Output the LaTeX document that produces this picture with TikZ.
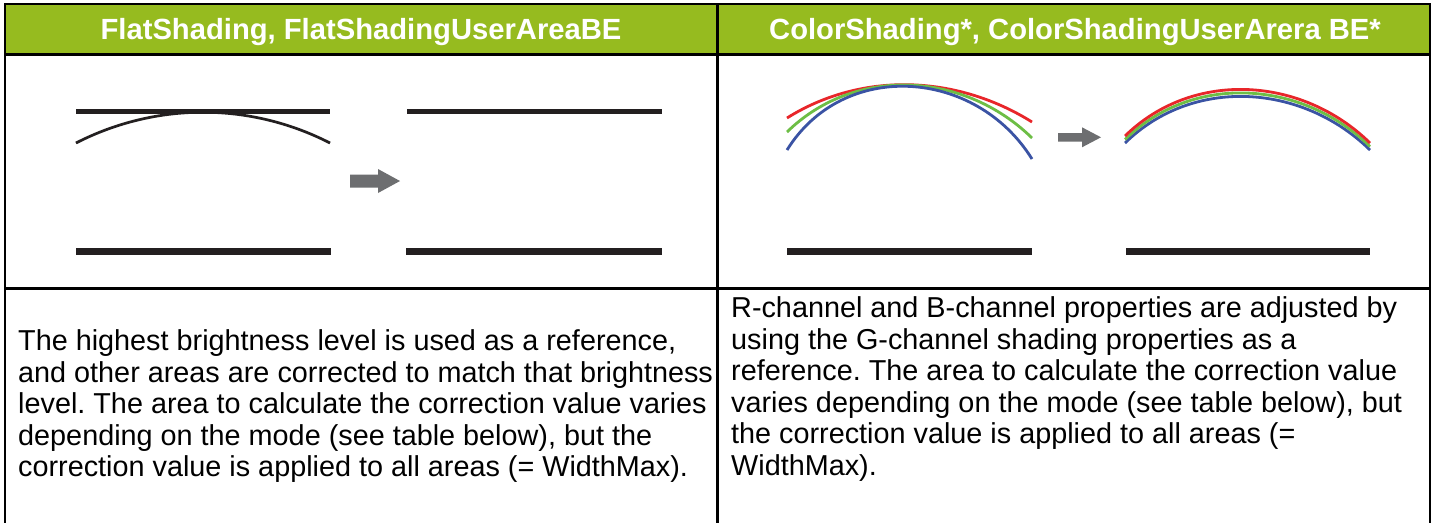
\documentclass[tikz,border=0pt]{standalone}
\usepackage{fontspec}
\setmainfont{Liberation Sans}
\frenchspacing
\definecolor{hdrgreen}{HTML}{96BB1F}
\definecolor{inkblack}{HTML}{231F20}
\definecolor{arrowgray}{HTML}{6D6E70}
\definecolor{chred}{HTML}{E8262A}
\definecolor{chgreen}{HTML}{6DBE45}
\definecolor{chblue}{HTML}{3A53A4}
\begin{document}
\begin{tikzpicture}[x=1pt,y=-1pt,
  rule/.style={draw=black,line width=2.2pt},
  hdrtext/.style={text=white,font=\fontsize{29.2}{32}\selectfont\bfseries,inner sep=0pt},
  bodytext/.style={text=black,font=\fontsize{28.8}{31.6}\selectfont,align=left,inner sep=0pt,anchor=north west},
  thinbar/.style={draw=inkblack,line width=4.2pt},
  thickbar/.style={draw=inkblack,line width=6.5pt},
  blackarc/.style={draw=inkblack,line width=2.7pt},
  rgbarc/.style={line width=2.8pt},
  grayarrow/.style={fill=arrowgray,draw=none}]
\useasboundingbox (0,0) rectangle (1432,523);
\fill[white] (0,0) rectangle (1432,523);
% header band
\fill[hdrgreen] (5,4) rectangle (1430,54.5);
% table rules
\draw[rule] (5,4) -- (1430,4);
\draw[rule] (5,54.5) -- (1430,54.5);
\draw[rule] (5,288.5) -- (1430,288.5);
\draw[rule] (5,3) -- (5,523);
\draw[rule] (717.5,3) -- (717.5,523);
\draw[rule] (1430,3) -- (1430,523);
% header texts
\node[hdrtext] (hl) at (361,32.5) {FlatShading, FlatShadingUserAreaBE};
\node[hdrtext] (hr) at (1075,32.5) {ColorShading*, ColorShadingUserArera BE*};
% ---- left panel ----
\draw[thinbar] (76,111.5) -- (330,111.5);
\draw[blackarc] (76,143) .. controls (156,102) and (250,102) .. (330,143);
\draw[thinbar] (407,111.5) -- (662,111.5);
\draw[thickbar] (76,251.5) -- (331,251.5);
\draw[thickbar] (406,251.5) -- (662,251.5);
\fill[grayarrow] (350,174.5) -- (378,174.5) -- (378,169) -- (400,181) -- (378,193) -- (378,187.5) -- (350,187.5) -- cycle;
% ---- right panel ----
\draw[rgbarc,chred] (787,118) .. controls (862,71) and (957,75) .. (1032,122);
\draw[rgbarc,chgreen] (787,132) .. controls (855,65.4) and (964,71.4) .. (1032,138);
\draw[rgbarc,chblue] (787,150) .. controls (843.4,59.2) and (975.6,68.2) .. (1032,159);
\fill[grayarrow] (1058,133) -- (1082,133) -- (1082,127.3) -- (1101,137.3) -- (1082,147.3) -- (1082,141.5) -- (1058,141.5) -- cycle;
\draw[rgbarc,chblue] (1125,143) .. controls (1193,76.4) and (1302,83.4) .. (1370,150);
\draw[rgbarc,chgreen] (1125,139.5) .. controls (1193,72.9) and (1302,79.9) .. (1370,146.5);
\draw[rgbarc,chred] (1125,136) .. controls (1193,69.4) and (1302,76.4) .. (1370,143);
\draw[thickbar] (787,251.5) -- (1032,251.5);
\draw[thickbar] (1126,251.5) -- (1370,251.5);
% ---- body texts ----
\node[bodytext] (tl) at (18,329.5) {The highest brightness level is used as a reference,\\
and other areas are corrected to match that brightness\\
level. The area to calculate the correction value varies\\
depending on the mode (see table below), but the\\
correction value is applied to all areas (= WidthMax).};
\node[bodytext] (tr) at (731,296.5) {R-channel and B-channel properties are adjusted by\\
using the G-channel shading properties as a\\
reference. The area to calculate the correction value\\
varies depending on the mode (see table below), but\\
the correction value is applied to all areas (=\\
WidthMax).};
\end{tikzpicture}
\end{document}
